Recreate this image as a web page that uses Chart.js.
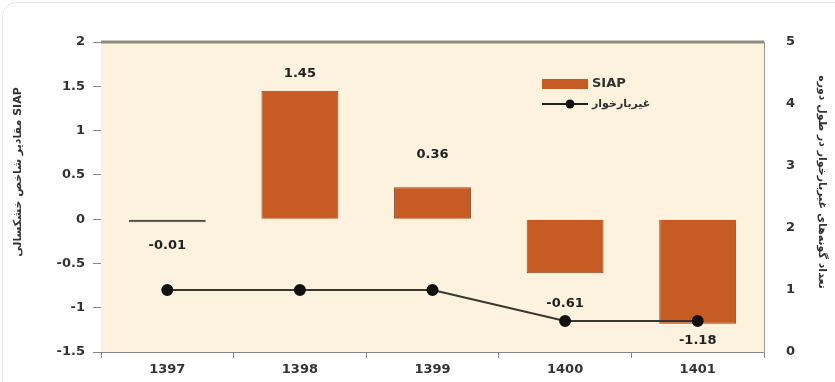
<!DOCTYPE html>
<html lang="fa">
<head>
  <meta charset="UTF-8" />
  <title>SIAP</title>
  <script src="https://cdn.jsdelivr.net/npm/chart.js"></script>
  <style>
    html, body { margin: 0; padding: 0; background: #fff; }
    .frame {
      position: absolute; left: 2px; top: 2px; width: 860px; height: 400px;
      border: 1px solid #e6e6e6; border-radius: 14px;
    }
    .wrap { position: absolute; left: 0; top: 0; width: 835px; height: 382px; }
  </style>
</head>
<body>
  <div class="frame"></div>
  <div class="wrap"><canvas id="chart" width="835" height="382"></canvas></div>

  <script>
    // data
    const years = ['1397', '1398', '1399', '1400', '1401'];
    const siapValues = [-0.01, 1.45, 0.36, -0.61, -1.18];
    const lineValues = [1, 1, 1, 0.5, 0.5];
    const leftTicks = [-1.5, -1, -0.5, 0, 0.5, 1, 1.5, 2];
    const rightTicks = [0, 1, 2, 3, 4, 5];

    const siapLabel = 'SIAP';
    const lineLabel = 'غیربارخوار';
    const leftTitle = 'مقادیر شاخص خشکسالی SIAP';
    const rightTitle = 'تعداد گونه‌های غیربارخوار در طول دوره';

    // how far each value label sits from the bar end (px)
    const labelGap = [23, 17, 33, 30, 17];

    const FONT = '"DejaVu Sans", Verdana, sans-serif';
    const barColor = '#c75b24';

    // plot background, heavy top rule, value labels, in-plot legend and axis titles
    const decor = {
      id: 'decor',
      beforeDatasetsDraw(chart) {
        const { ctx, chartArea: a } = chart;
        ctx.save();
        ctx.fillStyle = '#fcf2dd';
        ctx.fillRect(a.left, a.top, a.right - a.left, a.bottom - a.top);
        ctx.strokeStyle = '#8e8b80';
        ctx.lineWidth = 3;
        ctx.beginPath();
        ctx.moveTo(a.left, a.top);
        ctx.lineTo(a.right, a.top);
        ctx.stroke();
        ctx.restore();
      },
      afterDraw(chart) {
        const { ctx } = chart;
        const bars = chart.getDatasetMeta(1).data;
        ctx.save();
        ctx.font = 'bold 13px ' + FONT;
        ctx.fillStyle = '#222';
        ctx.textAlign = 'center';
        ctx.textBaseline = 'middle';
        bars.forEach((b, i) => {
          const v = siapValues[i];
          const y = v >= 0 ? b.y - labelGap[i] : b.y + labelGap[i];
          ctx.fillText(v.toFixed(2), b.x, y);
        });

        // legend
        const lx = 542, lw = 46;
        ctx.fillStyle = barColor;
        ctx.fillRect(lx, 79, lw, 10);
        ctx.strokeStyle = '#222';
        ctx.lineWidth = 2;
        ctx.beginPath();
        ctx.moveTo(lx, 104);
        ctx.lineTo(lx + lw, 104);
        ctx.stroke();
        ctx.fillStyle = '#111';
        ctx.beginPath();
        ctx.arc(lx + 28, 104, 4.5, 0, Math.PI * 2);
        ctx.fill();
        ctx.textAlign = 'left';
        ctx.fillStyle = '#333';
        ctx.font = 'bold 13px ' + FONT;
        ctx.fillText(siapLabel, lx + lw + 4, 84);
        ctx.font = 'bold 11px ' + FONT;
        ctx.fillText(lineLabel, lx + lw + 4, 104);

        // axis titles
        ctx.font = 'bold 11px ' + FONT;
        ctx.fillStyle = '#333';
        ctx.textAlign = 'center';
        ctx.save();
        ctx.translate(18, 172);
        ctx.rotate(-Math.PI / 2);
        ctx.fillText(leftTitle, 0, 0);
        ctx.restore();
        ctx.save();
        ctx.translate(822, 182);
        ctx.rotate(Math.PI / 2);
        ctx.fillText(rightTitle, 0, 0);
        ctx.restore();
        ctx.restore();
      }
    };

    const tickFont = { family: FONT, size: 13, weight: 'bold' };

    new Chart(document.getElementById('chart'), {
      data: {
        labels: years,
        datasets: [
          {
            type: 'line',
            label: lineLabel,
            data: lineValues,
            yAxisID: 'y1',
            borderColor: '#3a3630',
            borderWidth: 2,
            pointBackgroundColor: '#111',
            pointBorderColor: '#111',
            pointRadius: 5,
            tension: 0,
            order: 0
          },
          {
            type: 'bar',
            label: siapLabel,
            data: siapValues,
            yAxisID: 'y',
            backgroundColor: ['#4a4a4a', barColor, barColor, barColor, barColor],
            borderColor: ['#4a4a4a', '#8a4a2c', '#8a4a2c', '#8a4a2c', '#8a4a2c'],
            borderWidth: 1,
            minBarLength: 3,
            barPercentage: 0.58,
            categoryPercentage: 1,
            order: 1
          }
        ]
      },
      options: {
        responsive: false,
        animation: false,
        layout: { padding: { top: 42, left: 0, right: 0, bottom: 0 } },
        plugins: {
          legend: { display: false },
          tooltip: { enabled: false }
        },
        scales: {
          x: {
            offset: true,
            afterFit(s) { s.height = 30; },
            grid: { offset: true, drawOnChartArea: false, tickLength: 6, color: '#888' },
            border: { color: '#888', width: 1 },
            ticks: { padding: 4, color: '#333', font: tickFont }
          },
          y: {
            position: 'left',
            min: leftTicks[0],
            max: leftTicks[leftTicks.length - 1],
            afterFit(s) { s.width = 101; },
            afterBuildTicks(s) { s.ticks = leftTicks.map(v => ({ value: v })); },
            grid: { drawOnChartArea: false, tickLength: 8, color: '#888' },
            border: { color: '#888', width: 1 },
            ticks: { padding: 8, color: '#333', font: tickFont, callback: v => String(v) }
          },
          y1: {
            position: 'right',
            min: rightTicks[0],
            max: rightTicks[rightTicks.length - 1],
            afterFit(s) { s.width = 71; },
            afterBuildTicks(s) { s.ticks = rightTicks.map(v => ({ value: v })); },
            grid: { display: false, drawTicks: false },
            border: { display: true, color: '#999', width: 1 },
            ticks: { padding: 22, color: '#333', font: tickFont, callback: v => String(v) }
          }
        }
      },
      plugins: [decor]
    });
  </script>
</body>
</html>
